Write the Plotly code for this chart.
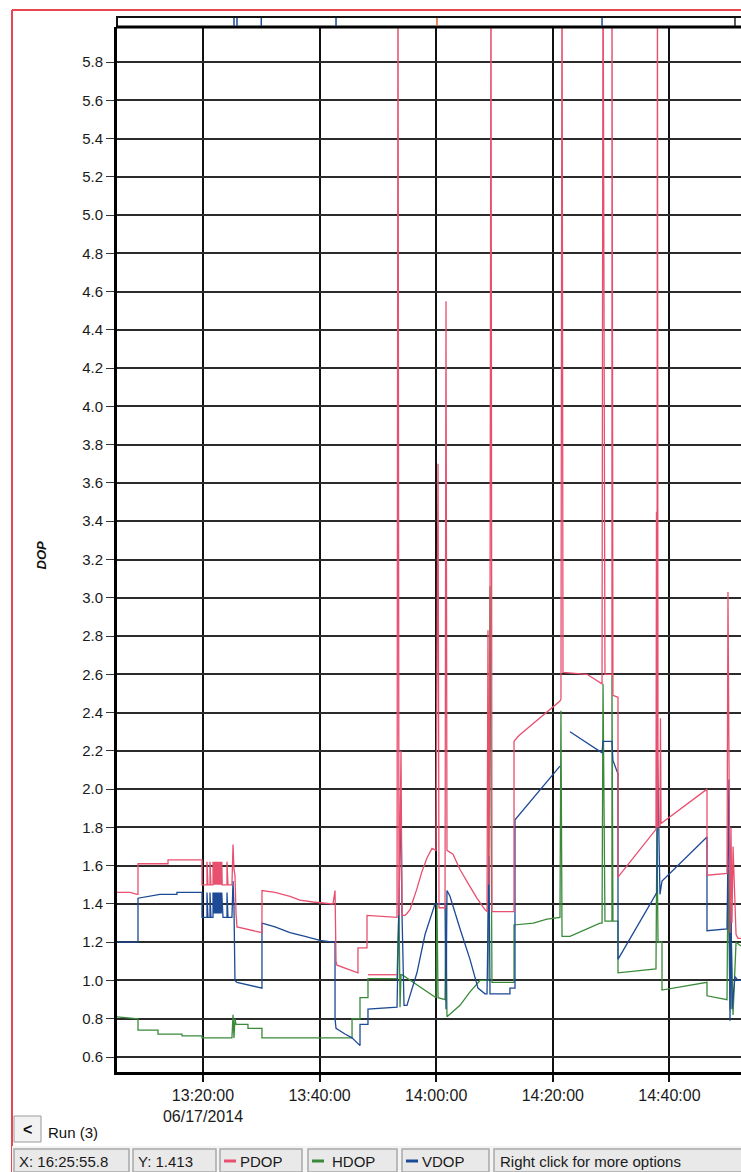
import plotly.graph_objects as go

DATE = "2014-06-17 "

# ---------------- data ----------------
pdop_time = [
    "13:05:15", "13:07:29", "13:08:41", "13:08:51", "13:08:51", "13:14:00", "13:14:00", "13:19:50",
    "13:19:50", "13:20:41", "13:20:41", "13:20:51", "13:21:12", "13:21:12", "13:21:22", "13:21:43",
    "13:21:43", "13:21:48", "13:21:53", "13:21:58", "13:22:03", "13:22:08", "13:22:13", "13:22:18",
    "13:22:23", "13:22:28", "13:22:33", "13:22:38", "13:22:43", "13:22:48", "13:22:53", "13:22:58",
    "13:23:03", "13:23:08", "13:23:13", "13:23:18", "13:23:26",
    "13:24:07", "13:24:07", "13:24:17", "13:24:58", "13:25:09", "13:25:19", "13:25:29", "13:25:40",
    "13:25:50", "13:30:07", "13:30:07", "13:32:21", "13:34:55", "13:36:38", "13:38:52", "13:42:18",
    "13:42:39", "13:42:49", "13:42:59", "13:46:35", "13:46:35", "13:48:08", "13:48:08", "13:53:17",
    "13:53:27", "13:53:37", "13:53:58", "13:54:08", "13:54:39", "13:54:59", "13:55:30", "13:56:42",
    "13:57:34", "13:58:25", "13:59:17", "13:59:58", "14:00:19", "14:00:29", "14:01:31", "14:01:41",
    "14:01:51", "14:02:53", "14:04:05", "14:05:48", "14:06:59", "14:08:22", "14:08:43", "14:08:53",
    "14:09:03", "14:09:14", "14:09:24", "14:09:34", "14:13:21", "14:13:21", "14:14:12", "14:21:14",
    "14:21:24", "14:21:35", "14:21:45", "14:25:52", "14:28:06", "14:28:27", "14:28:37", "14:28:57",
    "14:30:09", "14:30:09", "14:30:19", "14:31:11", "14:31:11", "14:37:42", "14:37:47", "14:37:52",
    "14:37:57", "14:38:03", "14:38:23", "14:38:28", "14:38:34", "14:46:27", "14:46:27", "14:49:53",
    "14:50:03", "14:50:13", "14:50:24", "14:50:34", "14:50:44", "14:50:55", "14:51:15", "14:51:26",
    "14:51:46", "14:52:17",
    None, "13:48:18", "13:53:17",
]
pdop_val = [
    1.46, 1.46, 1.45, 1.45, 1.61, 1.61, 1.63, 1.63,
    1.50, 1.50, 1.62, 1.50, 1.50, 1.62, 1.50, 1.50,
    1.62, 1.50, 1.62, 1.50, 1.62, 1.50, 1.62, 1.50,
    1.62, 1.50, 1.62, 1.50, 1.62, 1.50, 1.62, 1.50,
    1.62, 1.50, 1.62, 1.50, 1.50,
    1.50, 1.62, 1.50, 1.50, 1.71, 1.58, 1.55, 1.35,
    1.28, 1.25, 1.47, 1.46, 1.44, 1.42, 1.41, 1.40,
    1.47, 1.10, 1.08, 1.04, 1.17, 1.17, 1.34, 1.33,
    6.50, 1.34, 2.20, 1.34, 1.34, 1.35, 1.37, 1.48,
    1.57, 1.64, 1.69, 1.68, 3.70, 1.38, 1.38, 4.55,
    1.68, 1.66, 1.58, 1.49, 1.43, 1.37, 1.36, 2.83,
    1.50, 2.80, 6.50, 1.36, 1.36, 2.25, 2.28, 2.46,
    2.47, 6.50, 2.61, 2.60, 2.56, 2.55, 6.50, 2.60,
    2.60, 6.50, 2.49, 2.48, 1.54, 1.79, 3.45, 1.80,
    6.50, 1.80, 1.81, 2.37, 1.82, 2.00, 1.55, 1.56,
    3.03, 1.84, 1.25, 1.80, 1.30, 1.70, 1.40, 1.24,
    1.22, 1.22,
    None, 1.03, 1.03,
]

hdop_time = [
    "13:05:15", "13:08:41", "13:08:51", "13:08:51", "13:12:17", "13:12:17", "13:16:24", "13:16:24",
    "13:19:50", "13:19:50", "13:24:58", "13:25:09", "13:25:19", "13:25:29", "13:25:40", "13:27:43",
    "13:27:43", "13:30:07", "13:30:07", "13:45:34", "13:45:34", "13:46:56", "13:46:56", "13:48:18",
    "13:48:18", "13:53:17", "13:53:37", "13:53:48", "13:53:58", "13:54:08", "13:59:58", "14:00:08",
    "14:00:19", "14:01:31", "14:01:41", "14:01:51", "14:04:05", "14:05:48", "14:07:31", "14:08:43",
    "14:08:53", "14:09:14", "14:09:24", "14:09:34", "14:13:21", "14:13:21", "14:16:40", "14:19:00",
    "14:21:14", "14:21:24", "14:21:35", "14:22:57", "14:28:06", "14:28:27", "14:28:37", "14:28:57",
    "14:30:09", "14:30:09", "14:30:19", "14:31:11", "14:31:11", "14:37:42", "14:37:52", "14:38:03",
    "14:38:44", "14:38:44", "14:46:27", "14:46:27", "14:49:53", "14:50:03", "14:50:24", "14:50:34",
    "14:50:55", "14:51:26", "14:52:17",
]
hdop_val = [
    0.81, 0.80, 0.80, 0.74, 0.74, 0.72, 0.72, 0.71,
    0.71, 0.70, 0.70, 0.82, 0.70, 0.80, 0.77, 0.77,
    0.75, 0.75, 0.70, 0.70, 0.80, 0.80, 0.91, 0.91,
    1.01, 1.01, 1.40, 0.86, 1.03, 1.03, 0.91, 1.40,
    0.91, 0.90, 1.40, 0.81, 0.87, 0.94, 1.00, 1.00,
    1.00, 3.06, 1.65, 0.99, 0.99, 1.29, 1.30, 1.32,
    1.33, 2.41, 1.23, 1.23, 1.30, 1.30, 2.55, 1.31,
    1.31, 2.60, 1.31, 1.31, 1.04, 1.06, 1.80, 1.20,
    1.20, 0.95, 0.99, 0.92, 0.90, 1.58, 0.85, 1.30,
    0.82, 1.20, 1.18,
]

vdop_time = [
    "13:05:15", "13:08:51", "13:08:51", "13:10:55", "13:12:37", "13:15:32", "13:15:32", "13:19:50",
    "13:19:50", "13:20:41", "13:20:41", "13:20:51", "13:21:12", "13:21:12", "13:21:22", "13:21:43",
    "13:21:43", "13:21:48", "13:21:53", "13:21:58", "13:22:03", "13:22:08", "13:22:13", "13:22:18",
    "13:22:23", "13:22:28", "13:22:33", "13:22:38", "13:22:43", "13:22:48", "13:22:53", "13:22:58",
    "13:23:03", "13:23:08", "13:23:13", "13:23:18", "13:23:26",
    "13:24:07", "13:24:07", "13:24:17", "13:24:58", "13:25:09", "13:25:19", "13:25:29", "13:25:50",
    "13:30:07", "13:30:07", "13:32:21", "13:34:55", "13:37:30", "13:40:04", "13:42:18", "13:42:39",
    "13:42:39", "13:42:49", "13:44:21", "13:45:34", "13:46:35", "13:46:56", "13:46:56", "13:48:18",
    "13:48:18", "13:53:17", "13:53:37", "13:53:58", "13:54:08", "13:54:29", "13:54:59", "13:56:42",
    "13:58:05", "13:59:17", "13:59:48", "14:01:31", "14:01:41", "14:01:51", "14:02:22", "14:04:05",
    "14:05:48", "14:07:10", "14:08:22", "14:08:43", "14:09:03", "14:09:14", "14:12:39", "14:12:39",
    "14:13:31", "14:13:31", "14:21:14", None, "14:22:57", "14:28:06", "14:28:27", "14:28:37",
    "14:30:09", "14:30:19", "14:31:11", "14:31:11", "14:37:52", "14:37:57", "14:38:03", "14:38:23",
    "14:38:44", "14:46:27", "14:46:27", "14:49:53", "14:50:13", "14:50:24", "14:50:34", "14:50:44",
    "14:51:15", "14:51:46", "14:52:17",
]
vdop_val = [
    1.20, 1.20, 1.43, 1.44, 1.45, 1.45, 1.46, 1.46,
    1.33, 1.33, 1.46, 1.33, 1.33, 1.46, 1.33, 1.33,
    1.46, 1.35, 1.46, 1.35, 1.46, 1.35, 1.46, 1.35,
    1.46, 1.35, 1.46, 1.35, 1.46, 1.35, 1.46, 1.35,
    1.46, 1.35, 1.46, 1.35, 1.33,
    1.33, 1.46, 1.33, 1.33, 1.52, 1.38, 1.00, 0.99,
    0.96, 1.30, 1.28, 1.25, 1.23, 1.21, 1.20, 1.20,
    0.80, 0.75, 0.72, 0.70, 0.67, 0.66, 0.77, 0.77,
    0.85, 0.86, 1.41, 1.95, 1.35, 0.87, 0.87, 1.04,
    1.24, 1.36, 1.40, 1.40, 0.85, 1.47, 1.44, 1.27,
    1.11, 0.96, 0.93, 0.93, 1.65, 0.93, 0.93, 0.96,
    0.96, 1.84, 2.12, None, 2.30, 2.20, 2.19, 2.25,
    2.25, 2.15, 2.08, 1.11, 1.46, 2.20, 1.96, 1.45,
    1.52, 1.75, 1.26, 1.27, 2.05, 0.79, 1.40, 0.85,
    1.02, 1.00, 1.00,
]

# event markers in the thin strip above the plot
strip_marks = ["13:25:19", "13:25:50", "13:30:00", "13:42:49", "14:00:08", "14:28:27", "14:51:15"]
strip_colors = ["#1c4a96", "#1c4a96", "#1c4a96", "#1c4a96", "#e0603a", "#1c4a96", "#222222"]

x_tick_times = ["13:20:00", "13:40:00", "14:00:00", "14:20:00", "14:40:00"]
x_tick_labels = ["13:20:00<br>06/17/2014", "13:40:00", "14:00:00", "14:20:00", "14:40:00"]
y_ticks = [0.6, 0.8, 1.0, 1.2, 1.4, 1.6, 1.8, 2.0, 2.2, 2.4, 2.6, 2.8, 3.0, 3.2,
           3.4, 3.6, 3.8, 4.0, 4.2, 4.4, 4.6, 4.8, 5.0, 5.2, 5.4, 5.6, 5.8]
y_tick_labels = ["%.1f" % v for v in y_ticks]

status_texts = ["X: 16:25:55.8", "Y: 1.413", "PDOP", "HDOP", "VDOP", "Right click for more options"]

# ---------------- styling ----------------
PINK = "#e8506f"
GREEN = "#3a8a3a"
BLUE = "#1c4a96"
FONT = "Arial, Liberation Sans, sans-serif"

W, H = 741, 1172
L, T, B = 117, 27, 1072


def xp(px):
    return (px - L) / (W - L)


def yp(py):
    return (B - py) / (B - T)


def stamp(ts):
    return [None if t is None else DATE + t for t in ts]


fig = go.Figure()
for name, tt, vv, col in [("HDOP", hdop_time, hdop_val, GREEN),
                          ("VDOP", vdop_time, vdop_val, BLUE),
                          ("PDOP", pdop_time, pdop_val, PINK)]:
    fig.add_trace(go.Scatter(x=stamp(tt), y=vv, mode="lines", name=name,
                             line=dict(color=col, width=1.3), connectgaps=False,
                             hoverinfo="skip"))

fig.update_layout(
    width=W, height=H, autosize=False,
    margin=dict(l=L, r=0, t=T, b=H - B, pad=0),
    paper_bgcolor="white", plot_bgcolor="white",
    showlegend=False,
    font=dict(family=FONT, color="#1a1a1a"),
)
fig.update_xaxes(
    type="date",
    range=[DATE + "13:05:15", DATE + "14:52:17"],
    tickvals=stamp(x_tick_times), ticktext=x_tick_labels,
    tickfont=dict(size=16, color="#1a1a1a"),
    showgrid=True, gridcolor="#111111", gridwidth=2,
    ticks="outside", ticklen=7, tickwidth=1.5, tickcolor="#111",
    showline=True, linecolor="#000", linewidth=3,
    zeroline=False, fixedrange=True,
)
fig.update_yaxes(
    range=[0.5216, 5.983],
    tickvals=y_ticks, ticktext=y_tick_labels,
    tickfont=dict(size=15, color="#1a1a1a"),
    showgrid=True, gridcolor="#2b2b2b", gridwidth=2,
    ticks="outside", ticklen=8, tickwidth=1.2, tickcolor="#333",
    showline=True, linecolor="#000", linewidth=3,
    zeroline=False, fixedrange=True,
)

shapes = []
# red outer frame
shapes.append(dict(type="line", xref="paper", yref="paper", x0=xp(12), x1=xp(745), y0=yp(10), y1=yp(10),
                   line=dict(color="#e8474f", width=2)))
shapes.append(dict(type="line", xref="paper", yref="paper", x0=xp(12), x1=xp(12), y0=yp(10), y1=yp(1175),
                   line=dict(color="#e8474f", width=2)))
# thin strip above the plot
shapes.append(dict(type="rect", xref="paper", yref="paper", x0=xp(117), x1=xp(760), y0=yp(27), y1=yp(17),
                   line=dict(color="#111", width=2), fillcolor="white"))
shapes.append(dict(type="line", xref="paper", yref="paper", x0=xp(116), x1=xp(760), y0=yp(27), y1=yp(27),
                   line=dict(color="#000", width=3)))
for t, c in zip(strip_marks, strip_colors):
    shapes.append(dict(type="line", xref="x", yref="paper", x0=DATE + t, x1=DATE + t, y0=yp(26), y1=yp(18),
                       line=dict(color=c, width=1.5)))
# "<" button
shapes.append(dict(type="rect", xref="paper", yref="paper", x0=xp(14), x1=xp(41), y0=yp(1142), y1=yp(1116),
                   line=dict(color="#9a9a9a", width=1), fillcolor="#f2f2f2"))
# status bar boxes
boxes = [(14, 129), (133, 216), (220, 302), (308, 397), (402, 489), (494, 760)]
shapes.append(dict(type="rect", xref="paper", yref="paper", x0=xp(12), x1=xp(760), y0=yp(1175), y1=yp(1146),
                   line=dict(width=0), fillcolor="#f4f4f4"))
for x0, x1 in boxes:
    shapes.append(dict(type="rect", xref="paper", yref="paper", x0=xp(x0), x1=xp(x1), y0=yp(1172), y1=yp(1149),
                       line=dict(color="#a8a8a8", width=1.5), fillcolor="#e9e9e9"))
for (x0, _), col in zip(boxes[2:5], [PINK, GREEN, BLUE]):
    shapes.append(dict(type="line", xref="paper", yref="paper", x0=xp(x0 + 4), x1=xp(x0 + 16),
                       y0=yp(1161), y1=yp(1161), line=dict(color=col, width=3)))
fig.update_layout(shapes=shapes)

ann = []
ann.append(dict(text="<b><i>DOP</i></b>", xref="paper", yref="paper", x=xp(31), y=yp(555),
                textangle=-90, showarrow=False, font=dict(size=13, color="#111", family=FONT)))
ann.append(dict(text="<b>&lt;</b>", xref="paper", yref="paper", x=xp(27), y=yp(1129),
                xanchor="center", yanchor="middle",
                showarrow=False, font=dict(size=16, color="#111", family=FONT)))
ann.append(dict(text="Run (3)", xref="paper", yref="paper", x=xp(46), y=yp(1132), xanchor="left",
                yanchor="middle", showarrow=False, font=dict(size=15, color="#111", family=FONT)))
text_x = [17, 136, 238, 330, 420, 498]
for tx, s in zip(text_x, status_texts):
    ann.append(dict(text=s, xref="paper", yref="paper", x=xp(tx), y=yp(1161), xanchor="left",
                    yanchor="middle", showarrow=False, font=dict(size=15, color="#1a1a1a", family=FONT)))
fig.update_layout(annotations=ann)

fig.write_html("out.html")
